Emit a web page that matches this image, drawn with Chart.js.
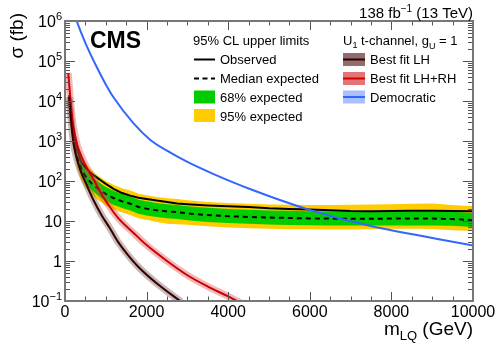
<!DOCTYPE html>
<html>
<head>
<meta charset="utf-8">
<script src="https://cdn.jsdelivr.net/npm/chart.js"></script>
<style>
  html, body { margin: 0; padding: 0; background: #fff; }
  canvas { display: block; }
</style>
</head>
<body>
<canvas id="chart" width="498" height="347"></canvas>
<script>
/* Limit scan: LQ mass points (GeV) and cross sections (fb) */
const massPoints = [100, 150, 200, 250, 300, 400, 500, 600, 700, 800, 900, 1000, 1200, 1400, 1600, 1800, 2000, 2250, 2500, 2750, 3000, 3500, 4000, 4500, 5000, 5500, 6000, 6500, 7000, 7500, 8000, 8500, 9000, 9500, 10000];
const observed = [14000, 4500, 2000, 1000, 600, 295, 215, 170, 140, 118, 100, 85, 63, 50, 43, 38, 35.5, 32.4, 30, 27.5, 26.3, 24.5, 23.4, 22.4, 20.7, 20, 19.5, 18.6, 17.8, 17.6, 17.8, 18, 18, 17.8, 17.6];
const expected = [8900, 3200, 1400, 710, 400, 200, 132, 100, 79, 65, 55, 47, 37, 31, 27, 22.4, 20.4, 18.6, 17.4, 16.6, 15.5, 14.1, 13.2, 12.6, 12.2, 11.9, 11.6, 11.5, 11.4, 11.4, 11.5, 11.5, 11.5, 11.2, 10.5];
const band68Up = [13500, 4800, 2140, 1070, 600, 300, 200, 151, 120, 98, 83, 71, 56, 47, 41, 34, 31, 28, 26.3, 25, 23.4, 21.4, 20, 19, 18.4, 18, 17.6, 17.4, 17.2, 17.2, 17.4, 17.4, 17.4, 17, 15.8];
const band68Down = [6000, 2140, 955, 480, 270, 135, 89, 68, 54, 44, 37, 31.6, 25, 21, 18.2, 15.1, 13.8, 12.6, 11.7, 11.2, 10.5, 9.5, 8.9, 8.5, 8.2, 8.0, 7.85, 7.75, 7.7, 7.7, 7.75, 7.75, 7.75, 7.6, 7.1];
const band95Up = [19000, 6800, 3000, 1500, 850, 430, 280, 215, 170, 138, 117, 100, 79, 66, 58, 48, 44, 40, 37, 35.5, 33, 30, 28, 27, 26, 25.4, 25, 25, 25.4, 25.7, 26.3, 27, 27.5, 25, 23.4];
const band95Down = [4700, 1660, 740, 370, 210, 105, 69, 52, 42, 34, 29, 24.5, 19.5, 16.2, 14.1, 11.7, 10.7, 9.5, 8.5, 8.3, 8.1, 7.4, 6.9, 6.6, 6.4, 6.2, 6.2, 6.1, 6.1, 6.2, 6.4, 6.4, 6.3, 5.9, 5.6];

/* Theory predictions, U1 t-channel, gU = 1 */
const lhMass = [100, 150, 200, 250, 370, 530, 700, 900, 1100, 1300, 1500, 1800, 2300, 2850];
const lhXsec = [12600, 3200, 1000, 525, 195, 80, 33, 13.8, 6.6, 3.0, 1.6, 0.71, 0.25, 0.095];
const lhrhMass = [80, 150, 200, 300, 400, 550, 700, 900, 1100, 1300, 1700, 2000, 2500, 3000, 3500, 4000, 4300];
const lhrhXsec = [50000, 7100, 2500, 800, 420, 200, 110, 46, 22.4, 12, 4.8, 2.5, 1.0, 0.44, 0.23, 0.13, 0.09];
const demoMass = [250, 287, 400, 531, 777, 1000, 1184, 1675, 2100, 2500, 3000, 3630, 4550, 5920, 7390, 10000];
const demoXsec = [1300000, 1000000, 500000, 240000, 71000, 26000, 12600, 2800, 1050, 575, 300, 151, 62, 20, 7.9, 2.45];

/* Axis ticks */
const xTicks = [0, 2000, 4000, 6000, 8000, 10000];
const yTicks = [0.1, 1, 10, 100, 1e3, 1e4, 1e5, 1e6];
const yTickBase = ['10', '1', '10', '10', '10', '10', '10', '10'];
const yTickExp = ['\u22121', '', '', '2', '3', '4', '5', '6'];

const FONT = '"Liberation Sans", Arial, Helvetica, sans-serif';

function pts(xs, ys) {
  return xs.map(function(x, i) { return { x: x, y: ys[i] }; });
}

/* text with a raised (dy < 0) or lowered (dy > 0) small part, returns end x */
function textPart(ctx, str, x, y, size, dy, bold) {
  ctx.font = (bold ? 'bold ' : '') + size + 'px ' + FONT;
  ctx.fillText(str, x, y + (dy || 0));
  return x + ctx.measureText(str).width;
}
function partsWidth(ctx, parts) {
  let w = 0;
  parts.forEach(function(p) {
    ctx.font = p[1] + 'px ' + FONT;
    w += ctx.measureText(p[0]).width;
  });
  return w;
}
function drawParts(ctx, parts, x, y) {
  parts.forEach(function(p) { x = textPart(ctx, p[0], x, y, p[1], p[2]); });
}

const decorations = {
  id: 'decorations',
  afterDraw(chart) {
    const ctx = chart.ctx, a = chart.chartArea;
    const xs = chart.scales.x, ys = chart.scales.y;
    ctx.save();

    // inward ticks on all four sides
    ctx.strokeStyle = '#555';
    ctx.lineWidth = 1;
    ctx.beginPath();
    for (let m = 500; m < 10000; m += 500) {
      const px = Math.round(xs.getPixelForValue(m)) + 0.5;
      const len = m % 2000 === 0 ? 9 : 4.5;
      ctx.moveTo(px, a.bottom); ctx.lineTo(px, a.bottom - len);
      ctx.moveTo(px, a.top); ctx.lineTo(px, a.top + len);
    }
    for (let e = -1; e <= 5; e++) {
      for (let k = 1; k <= 9; k++) {
        const py = Math.round(ys.getPixelForValue(k * Math.pow(10, e))) + 0.5;
        const len = k === 1 ? 10 : 5;
        ctx.moveTo(a.left, py); ctx.lineTo(a.left + len, py);
        ctx.moveTo(a.right, py); ctx.lineTo(a.right - len, py);
      }
    }
    ctx.stroke();

    // frame
    ctx.strokeStyle = '#777';
    ctx.lineWidth = 2;
    ctx.strokeRect(a.left, a.top, a.right - a.left, a.bottom - a.top);

    ctx.fillStyle = '#000';
    ctx.textBaseline = 'alphabetic';

    // x tick labels
    ctx.textAlign = 'center';
    ctx.font = '16px ' + FONT;
    xTicks.forEach(function(v) {
      ctx.fillText(String(v), xs.getPixelForValue(v), a.bottom + 16);
    });

    // y tick labels, right aligned
    ctx.textAlign = 'left';
    yTicks.forEach(function(v, i) {
      const py = ys.getPixelForValue(v) + 5.5;
      const parts = [[yTickBase[i], 16, 0], [yTickExp[i], 11, -7]];
      const w = partsWidth(ctx, parts);
      drawParts(ctx, parts, 62 - w, py);
    });

    // axis titles
    const xt = [['m', 19, 0], ['LQ', 13, 5], [' (GeV)', 19, 0]];
    drawParts(ctx, xt, a.right - partsWidth(ctx, xt), 335);
    ctx.save();
    ctx.translate(23, 13);
    ctx.rotate(-Math.PI / 2);
    ctx.textAlign = 'right';
    ctx.font = '19px ' + FONT;
    ctx.fillText('\u03c3 (fb)', 0, 0);
    ctx.restore();

    // top labels
    const lumi = [['138 fb', 15, 0], ['\u22121', 10, -6], [' (13 TeV)', 15, 0]];
    drawParts(ctx, lumi, a.right - partsWidth(ctx, lumi), 18);
    textPart(ctx, 'CMS', 90, 48, 23, 0, true);

    // left legend: limits
    textPart(ctx, '95% CL upper limits', 193, 45, 13);
    ctx.strokeStyle = '#000';
    ctx.lineWidth = 2;
    ctx.beginPath(); ctx.moveTo(194, 59.5); ctx.lineTo(215, 59.5); ctx.stroke();
    ctx.setLineDash([5, 3.5]);
    ctx.beginPath(); ctx.moveTo(194, 78.5); ctx.lineTo(215, 78.5); ctx.stroke();
    ctx.setLineDash([]);
    ctx.fillStyle = '#00cc00'; ctx.fillRect(194, 90.5, 21, 13);
    ctx.fillStyle = '#ffcc00'; ctx.fillRect(194, 109, 21, 13);
    ctx.fillStyle = '#000';
    textPart(ctx, 'Observed', 220, 64, 13);
    textPart(ctx, 'Median expected', 220, 83, 13);
    textPart(ctx, '68% expected', 220, 101.5, 13);
    textPart(ctx, '95% expected', 220, 120.5, 13);

    // right legend: theory
    drawParts(ctx, [['U', 13, 0], ['1', 9, 3], [' t-channel, g', 13, 0], ['U', 9, 4], [' = 1', 13, 0]], 343, 45);
    const theory = [
      ['Best fit LH', 'rgba(110,60,60,0.75)', '#330000', 59.5],
      ['Best fit LH+RH', 'rgba(220,70,70,0.75)', '#cc0000', 78.5],
      ['Democratic', 'rgba(110,150,255,0.6)', '#3366ff', 97]
    ];
    theory.forEach(function(t) {
      ctx.fillStyle = t[1];
      ctx.fillRect(343, t[3] - 6.5, 22, 13);
      ctx.strokeStyle = t[2];
      ctx.lineWidth = 2;
      ctx.beginPath(); ctx.moveTo(343, t[3]); ctx.lineTo(365, t[3]); ctx.stroke();
      ctx.fillStyle = '#000';
      textPart(ctx, t[0], 370, t[3] + 4.5, 13);
    });
    ctx.restore();
  }
};

const common = { pointRadius: 0, pointHoverRadius: 0, tension: 0 };

new Chart(document.getElementById('chart'), {
  type: 'line',
  data: {
    datasets: [
      Object.assign({ data: pts(massPoints, band95Up), borderColor: 'rgba(0,0,0,0)', borderWidth: 0, backgroundColor: '#ffcc00', fill: '+1', order: 10 }, common),
      Object.assign({ data: pts(massPoints, band95Down), borderColor: 'rgba(0,0,0,0)', borderWidth: 0, fill: false, order: 10 }, common),
      Object.assign({ data: pts(massPoints, band68Up), borderColor: 'rgba(0,0,0,0)', borderWidth: 0, backgroundColor: '#00cc00', fill: '+1', order: 9 }, common),
      Object.assign({ data: pts(massPoints, band68Down), borderColor: 'rgba(0,0,0,0)', borderWidth: 0, fill: false, order: 9 }, common),
      Object.assign({ data: pts(massPoints, expected), borderColor: '#000', borderWidth: 2, borderDash: [5, 4], fill: false, order: 7 }, common),
      Object.assign({ data: pts(massPoints, observed), borderColor: '#000', borderWidth: 2, fill: false, order: 6 }, common),
      Object.assign({ data: pts(lhMass, lhXsec), borderColor: 'rgba(120,80,80,0.4)', borderWidth: 7, fill: false, order: 5, cubicInterpolationMode: 'monotone' }, common),
      Object.assign({ data: pts(lhrhMass, lhrhXsec), borderColor: 'rgba(225,80,80,0.4)', borderWidth: 7, fill: false, order: 5, cubicInterpolationMode: 'monotone' }, common),
      Object.assign({ data: pts(lhMass, lhXsec), borderColor: '#330000', borderWidth: 2, fill: false, order: 4, cubicInterpolationMode: 'monotone' }, common),
      Object.assign({ data: pts(lhrhMass, lhrhXsec), borderColor: '#cc0000', borderWidth: 2, fill: false, order: 4, cubicInterpolationMode: 'monotone' }, common),
      Object.assign({ data: pts(demoMass, demoXsec), borderColor: '#3366ff', borderWidth: 2, fill: false, order: 3, cubicInterpolationMode: 'monotone' }, common)
    ]
  },
  options: {
    responsive: false,
    animation: false,
    devicePixelRatio: 1,
    events: [],
    layout: { autoPadding: false, padding: { left: 0, right: 25, top: 21, bottom: 0 } },
    plugins: { legend: { display: false }, tooltip: { enabled: false } },
    scales: {
      x: {
        type: 'linear', min: 0, max: 10000,
        grid: { display: false }, border: { display: false },
        ticks: { display: false },
        afterFit: function(s) { s.height = 46; }
      },
      y: {
        type: 'logarithmic', min: 0.1, max: 1e6,
        grid: { display: false }, border: { display: false },
        ticks: { display: false },
        afterFit: function(s) { s.width = 65; }
      }
    }
  },
  plugins: [decorations]
});
</script>
</body>
</html>
